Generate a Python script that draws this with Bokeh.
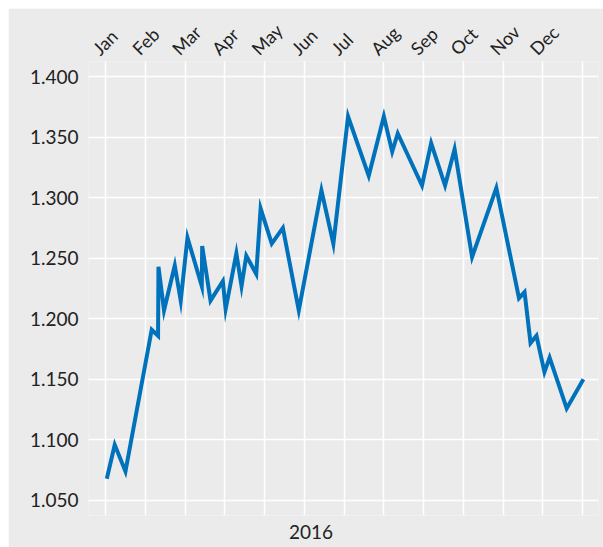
import math
from bokeh.plotting import figure
from bokeh.models import FixedTicker, LinearAxis, Range1d, NumeralTickFormatter
from bokeh.embed import file_html
from bokeh.resources import INLINE

# month index (0 = start of Jan 2016) and value
months = [0.03, 0.23, 0.50, 1.16, 1.32, 1.33, 1.47, 1.74, 1.89, 2.06, 2.42, 2.43,
          2.64, 2.95, 3.02, 3.29, 3.42, 3.54, 3.79, 3.90, 4.18, 4.46, 4.86, 5.43,
          5.73, 6.10, 6.62, 7.00, 7.21, 7.35, 7.96, 8.19, 8.54, 8.78, 9.22, 9.83,
          10.40, 10.54, 10.69, 10.84, 11.04, 11.17, 11.60, 12.02]
values = [1.068, 1.096, 1.074, 1.191, 1.186, 1.243, 1.207, 1.244, 1.215, 1.267, 1.227, 1.260,
          1.215, 1.231, 1.208, 1.254, 1.227, 1.252, 1.237, 1.291, 1.262, 1.275, 1.207, 1.306,
          1.262, 1.367, 1.318, 1.367, 1.338, 1.353, 1.310, 1.345, 1.310, 1.340, 1.251, 1.308,
          1.217, 1.222, 1.180, 1.186, 1.156, 1.168, 1.126, 1.150]

month_labels = ["Jan", "Feb", "Mar", "Apr", "May", "Jun", "Jul", "Aug", "Sep", "Oct", "Nov", "Dec"]
month_ticks = list(range(13))
y_ticks = [1.05, 1.10, 1.15, 1.20, 1.25, 1.30, 1.35, 1.40]
year_label = "2016"
year_pos = 5.17

BG = "#ebebeb"
TXT = "#222222"
FONT = "Lato"
LABEL_SHIFT = 0.25  # rotated month labels are centred over their gridline

p = figure(width=595, height=539, output_backend="svg", toolbar_location=None,
           x_range=Range1d(-0.43, 12.40), y_range=Range1d(1.0376, 1.4124),
           x_axis_location="above",
           min_border_left=80, min_border_top=53, min_border_right=5, min_border_bottom=32)
p.styles = {"margin-left": "8px", "margin-top": "8px"}
p.background_fill_color = BG
p.border_fill_color = BG
p.outline_line_color = None

p.line(months, values, line_color="#0072BC", line_width=4, line_join="miter")

# top axis with month names
label_pos = [i - LABEL_SHIFT for i in range(len(month_labels))]
top = p.xaxis[0]
top.ticker = FixedTicker(ticks=label_pos)
top.major_label_overrides = {t: s for t, s in zip(label_pos, month_labels)}
top.major_label_orientation = math.pi / 4
top.major_label_text_font = FONT
top.major_label_text_font_size = "18px"
top.major_label_text_color = TXT
top.major_label_standoff = 10

# bottom axis with year label
bottom = LinearAxis(ticker=FixedTicker(ticks=[year_pos]))
bottom.major_label_overrides = {year_pos: year_label}
bottom.major_label_text_font = FONT
bottom.major_label_text_font_size = "19px"
bottom.major_label_text_color = TXT
bottom.major_label_standoff = 9
p.add_layout(bottom, "below")

yax = p.yaxis[0]
yax.ticker = FixedTicker(ticks=y_ticks)
yax.formatter = NumeralTickFormatter(format="0.000")
yax.major_label_text_font = FONT
yax.major_label_text_font_size = "19px"
yax.major_label_text_color = TXT
yax.major_label_standoff = 10

for ax in [top, bottom, yax]:
    ax.axis_line_color = None
    ax.major_tick_line_color = None
    ax.minor_tick_line_color = None
    ax.major_tick_in = 0
    ax.major_tick_out = 0

p.xgrid.ticker = FixedTicker(ticks=month_ticks)
p.xgrid.grid_line_color = "white"
p.xgrid.grid_line_width = 1.5
p.ygrid.ticker = FixedTicker(ticks=y_ticks)
p.ygrid.grid_line_color = "white"
p.ygrid.grid_line_width = 1.5

open("out.html", "w").write(file_html(p, INLINE))
